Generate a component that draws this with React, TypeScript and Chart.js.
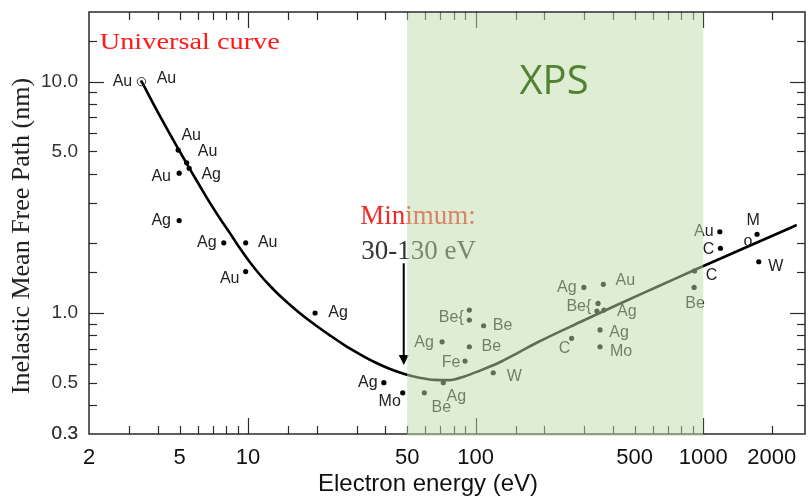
import React, { useEffect, useRef } from 'react';
import { Chart, registerables } from 'chart.js';

Chart.register(...registerables);

// ---------- axis tick labels ----------
const energyTickLabels = [2, 5, 10, 50, 100, 500, 1000, 2000];
const imfpTickLabels = [0.3, 0.5, 1, 5, 10];

// ---------- universal curve ----------
const curveEnergy = [3.4, 3.7, 4.1, 4.53, 5.01, 5.55, 6.14, 6.79, 7.51, 8.31, 9.19, 10.17, 11.25, 12.44, 13.76, 15.23, 16.84, 19.6, 22.8, 26.5, 30.9, 35.9, 41.8, 48.6, 56.6, 65.9, 76.6, 89.2, 103.7, 127, 155.4, 190, 285, 427, 639, 957, 1433, 2146, 2575];
const curveImfp = [10.06, 8.58, 7.1, 5.94, 4.99, 4.19, 3.54, 3.0, 2.57, 2.22, 1.909, 1.661, 1.467, 1.315, 1.19, 1.088, 1.0, 0.892, 0.803, 0.727, 0.665, 0.614, 0.574, 0.545, 0.525, 0.514, 0.513, 0.532, 0.562, 0.611, 0.678, 0.753, 0.91, 1.094, 1.308, 1.565, 1.862, 2.217, 2.4];

// ---------- measured points ----------
const pointEnergy = [3.4, 4.93, 5.37, 5.51, 4.98, 4.98, 7.82, 9.76, 9.76, 19.7, 39.5, 47.8, 59.5, 72.1, 89.8, 71.2, 93.8, 93.8, 93.8, 108.4, 119.5, 299, 364, 345, 341, 366, 352, 352, 264, 916, 912, 1183, 1190, 1724, 1754];
const pointImfp = [10.0, 5.06, 4.46, 4.22, 4.02, 2.51, 2.01, 2.01, 1.51, 1.0, 0.5, 0.452, 0.452, 0.5, 0.62, 0.751, 0.715, 1.03, 0.933, 0.881, 0.552, 1.29, 1.33, 1.10, 1.02, 1.03, 0.845, 0.715, 0.777, 1.52, 1.29, 2.245, 1.905, 2.19, 1.666];

// ---------- point labels ----------
const labelText = ['Au', 'Au', 'Au', 'Au', 'Ag', 'Au', 'Ag', 'Ag', 'Au', 'Au', 'Ag', 'Ag', 'Mo', 'Be', 'Ag', 'Fe', 'Ag', 'Be', 'Be{', 'Be', 'W', 'Ag', 'Au', 'Be{', 'Ag', 'Ag', 'Mo', 'C', 'C', 'Be', 'Au', 'C', 'M', 'o', 'W'];
const labelPoint = [0, 0, 1, 2, 3, 4, 5, 6, 7, 8, 9, 10, 11, 12, 13, 14, 15, 16, 18, 19, 20, 21, 22, 24, 25, 26, 27, 28, 29, 30, 31, 32, 33, 33, 34];
// label offsets from their point, in pixels (placement only)
const labelDx = [-19, 25, 13, 21, 22, -18, -18, -17, 22, -16, 23, -16, -13, 17, 13, -14, -18, 22, -18, 19, 21, -17, 22, -18, 23, 19, 21, -7, 17, 1, -16, -12, -4, -9, 17];
const labelDy = [0, -3, -15, -11, 6, 3, 0, 0, 0, 7, 0, 0, 9, 15, 14, 2, 1, 0, -2, 0, 4, 0, -4, -4, 2, 3, 5, 10, 5, 16, 0, 1, -14, 7, 5];

// ---------- annotations (data coordinates) ----------
const arrowEnergy = 48.3;
const arrowFrom = 1.64;
const arrowTo = 0.596;
const xpsBand = [50, 1000];

const near = (a: number, b: number) => Math.abs(a - b) / b < 1e-6;
const isPow10 = (v: number) => Math.abs(Math.log10(v) - Math.round(Math.log10(v))) < 1e-6;

const decor = {
  id: 'decor',
  afterDatasetsDraw(chart: any) {
    const { ctx, scales } = chart;
    const x = scales.x, y = scales.y;
    ctx.save();
    const p0x = x.getPixelForValue(pointEnergy[0]);
    const p0y = y.getPixelForValue(pointImfp[0]);
    ctx.beginPath();
    ctx.arc(p0x, p0y, 4.2, 0, Math.PI * 2);
    ctx.strokeStyle = '#333';
    ctx.lineWidth = 1;
    ctx.stroke();

    ctx.font = '16px "Liberation Sans", Arial, sans-serif';
    ctx.fillStyle = '#222';
    ctx.textAlign = 'center';
    ctx.textBaseline = 'middle';
    labelText.forEach((t, i) => {
      const p = labelPoint[i];
      ctx.fillText(t, x.getPixelForValue(pointEnergy[p]) + labelDx[i], y.getPixelForValue(pointImfp[p]) + labelDy[i]);
    });

    const ax = x.getPixelForValue(arrowEnergy);
    const ay1 = y.getPixelForValue(arrowFrom);
    const ay2 = y.getPixelForValue(arrowTo);
    ctx.strokeStyle = '#000';
    ctx.lineWidth = 2;
    ctx.beginPath();
    ctx.moveTo(ax, ay1);
    ctx.lineTo(ax, ay2 - 8);
    ctx.stroke();
    ctx.fillStyle = '#000';
    ctx.beginPath();
    ctx.moveTo(ax - 5, ay2 - 10);
    ctx.lineTo(ax + 5, ay2 - 10);
    ctx.lineTo(ax, ay2);
    ctx.closePath();
    ctx.fill();

    ctx.textAlign = 'left';
    ctx.textBaseline = 'alphabetic';
    ctx.save();
    ctx.translate(x.getPixelForValue(2.23), y.getPixelForValue(15.0) + 8);
    ctx.scale(1.18, 1);
    ctx.font = '24px "Liberation Serif", "Times New Roman", serif';
    ctx.fillStyle = '#ff1a1a';
    ctx.fillText('Universal curve', 0, 0);
    ctx.restore();

    ctx.font = '27px "Liberation Serif", "Times New Roman", serif';
    ctx.fillStyle = '#f22a2a';
    ctx.fillText('Minimum:', x.getPixelForValue(31.1), y.getPixelForValue(2.65) + 9);
    ctx.fillStyle = '#333';
    ctx.fillText('30-130 eV', x.getPixelForValue(31.4), y.getPixelForValue(1.87) + 9);
    ctx.restore();
  },
  afterDraw(chart: any) {
    const { ctx, chartArea, scales } = chart;
    const x = scales.x, y = scales.y;
    const { left, right, top, bottom } = chartArea;
    ctx.save();
    ctx.strokeStyle = '#2a2a2a';
    ctx.lineWidth = 1.5;
    ctx.strokeRect(left, top, right - left, bottom - top);
    ctx.lineWidth = 1.2;
    const seg = (a: number, b: number, c: number, d: number) => {
      ctx.beginPath();
      ctx.moveTo(a, b);
      ctx.lineTo(c, d);
      ctx.stroke();
    };
    x.ticks.forEach((t: any) => {
      const v = t.value;
      if (v <= x.min * 1.0001 || v >= x.max * 0.9999) return;
      if (v > 1000 && !near(v, 2000)) return;
      const len = isPow10(v) ? 16 : 8;
      const px = Math.round(x.getPixelForValue(v)) + 0.5;
      seg(px, bottom, px, bottom - len);
      seg(px, top, px, top + len);
    });
    y.ticks.forEach((t: any) => {
      const v = t.value;
      if (v <= y.min * 1.0001 || v >= y.max * 0.9999) return;
      const len = isPow10(v) ? 15 : 8;
      const py = Math.round(y.getPixelForValue(v)) + 0.5;
      seg(left, py, left + len, py);
      seg(right, py, right - len, py);
    });

    ctx.fillStyle = '#111';
    ctx.textAlign = 'center';
    ctx.textBaseline = 'middle';
    ctx.font = '24px "Liberation Sans", Arial, sans-serif';
    ctx.fillText('Electron energy (eV)', 428, 484);
    ctx.save();
    ctx.translate(22, 236);
    ctx.rotate(-Math.PI / 2);
    ctx.font = '26px "Liberation Serif", "Times New Roman", serif';
    ctx.fillStyle = '#222';
    ctx.fillText('Inelastic Mean Free Path (nm)', 0, 0);
    ctx.restore();

    const bx1 = x.getPixelForValue(xpsBand[0]);
    const bx2 = x.getPixelForValue(xpsBand[1]);
    ctx.fillStyle = 'rgba(190, 220, 170, 0.5)';
    ctx.fillRect(bx1, top + 1, bx2 - bx1, bottom - top + 1);

    ctx.font = '40px "Open Sans", "Noto Sans", sans-serif';
    ctx.fillStyle = '#548235';
    ctx.textAlign = 'center';
    ctx.textBaseline = 'middle';
    ctx.fillText('XPS', x.getPixelForValue(221), y.getPixelForValue(9.95));
    ctx.restore();
  },
};

export default function App() {
  const ref = useRef<HTMLCanvasElement>(null);
  useEffect(() => {
    if (!ref.current) return;
    const chart = new Chart(ref.current, {
      type: 'scatter',
      data: {
        datasets: [
          {
            type: 'line',
            data: curveEnergy.map((e, i) => ({ x: e, y: curveImfp[i] })),
            borderColor: '#000',
            borderWidth: 2.6,
            pointRadius: 0,
            cubicInterpolationMode: 'monotone',
            fill: false,
          } as any,
          {
            type: 'scatter',
            data: pointEnergy.map((e, i) => ({ x: e, y: pointImfp[i] })),
            backgroundColor: '#000',
            borderWidth: 0,
            pointRadius: pointEnergy.map((_, i) => (i === 0 ? 1.4 : 2.6)),
          } as any,
        ],
      },
      options: {
        animation: false,
        responsive: true,
        maintainAspectRatio: false,
        devicePixelRatio: 1,
        layout: { padding: { top: 12, right: 2, left: 0, bottom: 0 } },
        plugins: { legend: { display: false }, tooltip: { enabled: false } },
        scales: {
          x: {
            type: 'logarithmic',
            min: 2,
            max: 2800,
            grid: { display: false, drawTicks: false },
            border: { display: false },
            ticks: {
              autoSkip: false,
              maxRotation: 0,
              padding: 11,
              color: '#111',
              font: { family: '"Liberation Sans", Arial, sans-serif', size: 22 },
              callback: (v: any) => {
                const f = energyTickLabels.find((t) => near(Number(v), t));
                return f !== undefined ? String(f) : '';
              },
            },
            afterFit: (s: any) => {
              s.height = 62;
              s.paddingLeft = 0;
              s.paddingRight = 0;
            },
          },
          y: {
            type: 'logarithmic',
            min: 0.3,
            max: 20,
            grid: { display: false, drawTicks: false },
            border: { display: false },
            ticks: {
              autoSkip: false,
              padding: 11,
              color: '#333',
              font: { family: '"Liberation Sans", Arial, sans-serif', size: 19 },
              callback: (v: any) => {
                const f = imfpTickLabels.find((t) => near(Number(v), t));
                return f !== undefined ? f.toFixed(1) : '';
              },
            },
            afterFit: (s: any) => {
              s.width = 89;
              s.paddingTop = 0;
              s.paddingBottom = 0;
            },
          },
        },
      } as any,
      plugins: [decor],
    });
    return () => chart.destroy();
  }, []);
  return (
    <div style={{ position: 'fixed', left: 0, top: 0, width: 809, height: 496, background: '#fff' }}>
      <canvas ref={ref} />
    </div>
  );
}
